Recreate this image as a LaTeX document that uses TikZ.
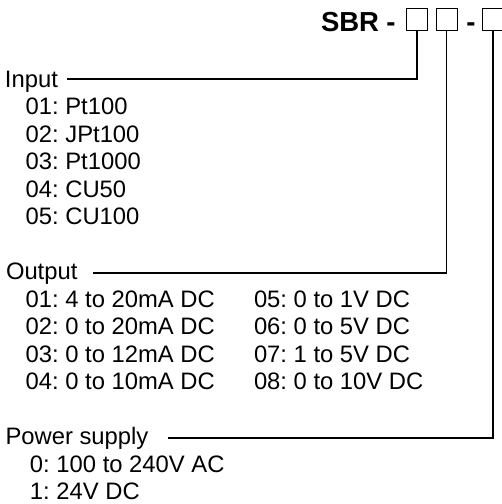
\documentclass[tikz,border=0pt]{standalone}
\usepackage{fontspec}
\setmainfont{Liberation Sans}
\frenchspacing
\begin{document}
\begin{tikzpicture}[x=1pt,y=-1pt,
  txt/.style={anchor=base west,inner sep=0pt,outer sep=0pt,font=\fontsize{23.8}{28}\selectfont\frenchspacing},
  ttl/.style={anchor=base west,inner sep=0pt,outer sep=0pt,font=\fontsize{27.5}{30}\selectfont\bfseries},
  codebox/.style={draw,line width=0.8pt,minimum width=21pt,minimum height=22pt,inner sep=0pt,outer sep=0pt},
  lead/.style={line width=1.5pt}]
\useasboundingbox (0,0) rectangle (502,504);
% title
\node[ttl] (sbr) at (321,31.5) {SBR};
\node[ttl,anchor=base] (d1) at (391,31.5) {-};
\node[codebox] (b1) at (417.2,19) {};
\node[codebox] (b2) at (446.5,19) {};
\node[ttl,anchor=base] (d2) at (471,31.5) {-};
\node[codebox] (b3) at (493.2,19) {};
% Input
\node[txt] (inh) at (5,87) {Input};
\node[txt] (i1) at (25.7,114.5) {01: Pt100};
\node[txt] (i2) at (25.7,142) {02: JPt100};
\node[txt] (i3) at (25.7,169.5) {03: Pt1000};
\node[txt] (i4) at (25.7,197) {04: CU50};
\node[txt] (i5) at (25.7,224.5) {05: CU100};
% Output
\node[txt] (outh) at (6,279.5) {Output};
\node[txt] (o1) at (25.7,307) {01: 4 to 20mA DC};
\node[txt] (o2) at (25.7,334.5) {02: 0 to 20mA DC};
\node[txt] (o3) at (25.7,362) {03: 0 to 12mA DC};
\node[txt] (o4) at (25.7,389.5) {04: 0 to 10mA DC};
\node[txt] (o5) at (254,307) {05: 0 to 1V DC};
\node[txt] (o6) at (254,334.5) {06: 0 to 5V DC};
\node[txt] (o7) at (254,362) {07: 1 to 5V DC};
\node[txt] (o8) at (254,389.5) {08: 0 to 10V DC};
% Power supply
\node[txt] (pwh) at (5.5,444.5) {Power supply};
\node[txt] (p0) at (30,472) {0: 100 to 240V AC};
\node[txt] (p1) at (30,499.5) {1: 24V DC};
% leader ends
\coordinate (inL) at (67,79);
\coordinate (outL) at (93,273);
\coordinate (pwL) at (168,438);
\draw[lead] (b1.south) |- (inL);
\draw[lead] (b2.south) |- (outL);
\draw[lead] (b3.south) |- (pwL);
\end{tikzpicture}
\end{document}
